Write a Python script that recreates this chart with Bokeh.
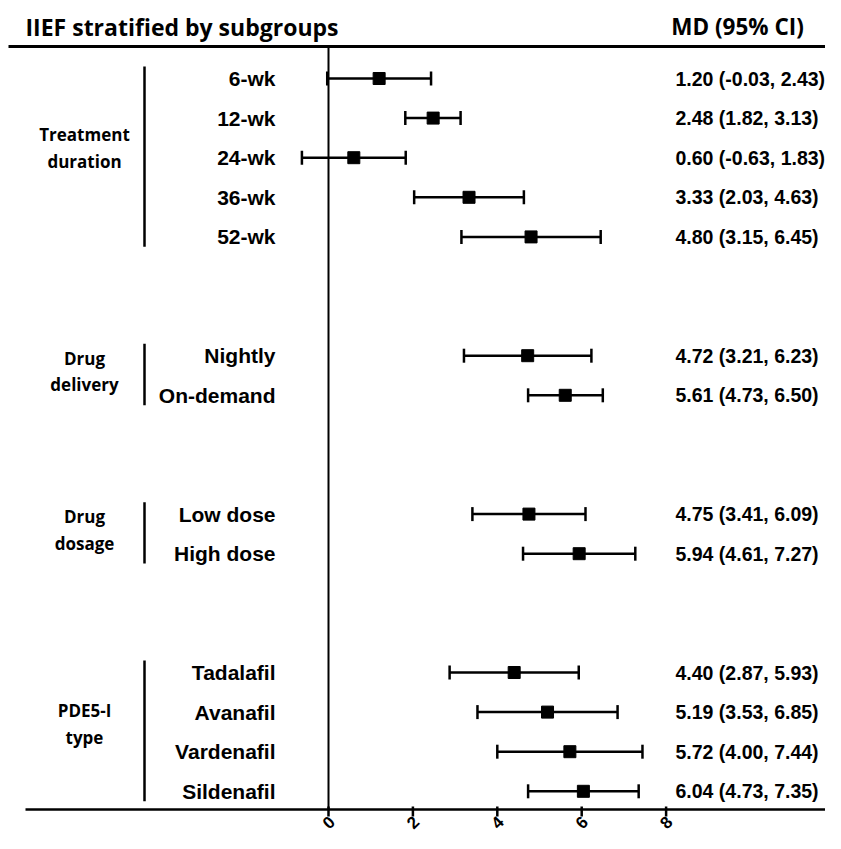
import math
from bokeh.plotting import figure
from bokeh.models import Range1d, ColumnDataSource, Label
from bokeh.core.properties import value
from bokeh.embed import file_html
from bokeh.resources import INLINE

# ---------------- data ----------------
title = "IIEF stratified by subgroups"
header = "MD (95% CI)"
groups = ["Treatment\nduration", "Drug\ndelivery", "Drug\ndosage", "PDE5-I\ntype"]
group_sizes = [5, 2, 2, 4]
labels = ["6-wk", "12-wk", "24-wk", "36-wk", "52-wk",
          "Nightly", "On-demand",
          "Low dose", "High dose",
          "Tadalafil", "Avanafil", "Vardenafil", "Sildenafil"]
md = [1.20, 2.48, 0.60, 3.33, 4.80, 4.72, 5.61, 4.75, 5.94, 4.40, 5.19, 5.72, 6.04]
lo = [-0.03, 1.82, -0.63, 2.03, 3.15, 3.21, 4.73, 3.41, 4.61, 2.87, 3.53, 4.00, 4.73]
hi = [2.43, 3.13, 1.83, 4.63, 6.45, 6.23, 6.50, 6.09, 7.27, 5.93, 6.85, 7.44, 7.35]
ticks = [0, 2, 4, 6, 8]
tick_labels = ["0", "2", "4", "6", "8"]

# ---------------- layout ----------------
W, H = 825, 833
PX_PER_UNIT = 42.2      # horizontal pixels per MD unit
X0_PX = 328             # px of MD = 0
ROW_PX = 39.6           # vertical pixels per row
DY = -4                 # small vertical shift so the tick labels fit
ROW0_PX = 82 + DY       # px of first row
GAP_ROWS = 2


def px2x(px):
    return (px - X0_PX) / PX_PER_UNIT


def py2y(py):
    return -(py + DY - ROW0_PX) / ROW_PX


# row positions (empty rows between groups); y = -row index
rows = []
group_rows = []
r = 0
for n in group_sizes:
    g = []
    for _ in range(n):
        rows.append(-r)
        g.append(-r)
        r += 1
    group_rows.append(g)
    r += GAP_ROWS

x_left, x_right = px2x(0), px2x(W)
y_top, y_bot = py2y(-DY), py2y(H - DY)
RH = 1 / ROW_PX  # one pixel in y units

p = figure(width=W, height=H, output_backend="svg", toolbar_location=None,
           x_range=Range1d(x_left, x_right), y_range=Range1d(y_bot, y_top),
           x_axis_type=None, y_axis_type=None, min_border=0)
p.grid.visible = False
p.outline_line_color = None
p.background_fill_color = "white"
p.border_fill_color = "white"

BLACK = "#000000"
line_top_y = py2y(50)
line_bot_y = py2y(813)

# horizontal rules
p.segment(x0=[px2x(8)], x1=[x_right], y0=[line_top_y], y1=[line_top_y],
          line_color=BLACK, line_width=3)
p.segment(x0=[px2x(25)], x1=[x_right], y0=[line_bot_y], y1=[line_bot_y],
          line_color=BLACK, line_width=2.5)
# zero line
p.segment(x0=[0], x1=[0], y0=[line_top_y], y1=[line_bot_y],
          line_color=BLACK, line_width=2)

# ticks
p.segment(x0=ticks, x1=ticks, y0=[line_bot_y + 3 * RH] * len(ticks),
          y1=[line_bot_y - 7 * RH] * len(ticks), line_color=BLACK, line_width=2.5)
for t, tl in zip(ticks, tick_labels):
    p.add_layout(Label(x=t, y=py2y(826), text=tl, angle=math.pi / 4, angle_units="rad",
                       text_align="center", text_baseline="middle",
                       text_font="Liberation Sans", text_font_style="bold",
                       text_font_size="17px", text_color=BLACK))

# forest marks
src = ColumnDataSource(dict(row=rows, md=md, lo=lo, hi=hi, label=labels,
                            txt=[f"{m:.2f} ({a:.2f}, {b:.2f})" for m, a, b in zip(md, lo, hi)]))
p.segment(x0="lo", x1="hi", y0="row", y1="row", source=src, line_color=BLACK, line_width=2.5)
p.scatter(x="lo", y="row", source=src, marker="dash", angle=math.pi / 2, size=14,
          line_color=BLACK, line_width=2.5)
p.scatter(x="hi", y="row", source=src, marker="dash", angle=math.pi / 2, size=14,
          line_color=BLACK, line_width=2.5)
p.scatter(x="md", y="row", source=src, marker="square", size=12,
          fill_color=BLACK, line_color=BLACK)

# subgroup labels
p.text(x=px2x(275), y="row", text="label", source=src, text_align="right",
       text_baseline="middle", text_font=value("Liberation Sans"), text_font_style="bold",
       text_font_size="21px", text_color=BLACK)
# values
p.text(x=px2x(675), y="row", text="txt", source=src, text_align="left",
       text_baseline="middle", text_font=value("Liberation Sans"), text_font_style="bold",
       text_font_size="19.5px", text_color=BLACK)

# group brackets and labels
bx = px2x(144)
p.segment(x0=[bx] * len(groups), x1=[bx] * len(groups),
          y0=[g[0] + 0.3 for g in group_rows], y1=[g[-1] - 0.25 for g in group_rows],
          line_color=BLACK, line_width=2.5)
p.text(x=[px2x(84)] * len(groups), y=[sum(g) / len(g) + 0.1 + 0.05 * (len(g) - 2) for g in group_rows],
       text=groups, text_align="center", text_baseline="middle",
       text_font=value("Open Sans"), text_font_style="bold", text_font_size="17px",
       text_line_height=1.15, text_color=BLACK)

# title and header
p.text(x=[px2x(25)], y=[py2y(30)], text=[title], text_align="left", text_baseline="middle",
       text_font=value("Open Sans"), text_font_style="bold", text_font_size="23px",
       text_color=BLACK)
p.text(x=[px2x(737)], y=[py2y(30)], text=[header], text_align="center", text_baseline="middle",
       text_font=value("Open Sans"), text_font_style="bold", text_font_size="22.5px",
       text_color=BLACK)

open("out.html", "w").write(file_html(p, INLINE))
